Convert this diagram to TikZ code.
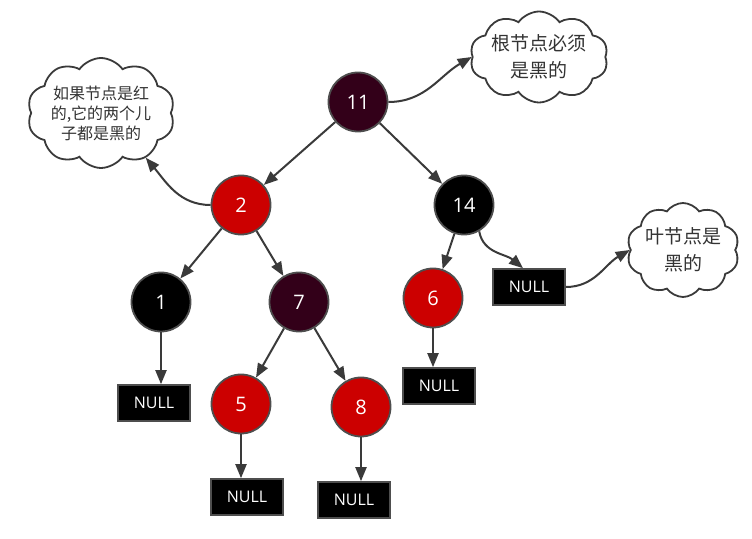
\documentclass[tikz,border=0pt]{standalone}
\usepackage{fontspec}
\setmainfont{Open Sans}
\newfontfamily\cjk{Noto Sans CJK SC}
\usetikzlibrary{shapes.symbols,arrows.meta}
\definecolor{rbdark}{HTML}{330019}
\definecolor{rbred}{HTML}{CC0000}
\definecolor{edgegray}{HTML}{3A3A3A}
\definecolor{notetext}{HTML}{333333}
\begin{document}
\begin{tikzpicture}[x=1pt,y=1pt,
 rbnode/.style={circle,draw=edgegray!90!white,line width=1.8pt,minimum size=59pt,inner sep=0pt,text=white,font=\fontsize{20}{20}\selectfont},
 nullbox/.style={rectangle,draw=edgegray!90!white,line width=1.6pt,fill=black,minimum width=72pt,minimum height=36pt,inner sep=0pt,text=white,font=\fontsize{16}{16}\selectfont},
 note/.style={cloud,draw=edgegray,line width=1.8pt,fill=white,cloud puffs=10,cloud puff arc=110,cloud ignores aspect,inner sep=0pt,align=center,text=notetext},
 arr/.style={draw=edgegray,line width=2pt,-{Triangle[length=14pt,width=11pt]}},
]
\useasboundingbox (0,0) rectangle (752,538);
% clouds
\node[note,minimum width=128pt,minimum height=110pt,font=\cjk\fontsize{16}{20}\selectfont] (cloudL) at (101,425) {如果节点是红\\的,它的两个儿\\子都是黑的};
\node[note,minimum width=132pt,minimum height=91pt,font=\cjk\fontsize{19}{27}\selectfont] (cloudT) at (539,481) {根节点必须\\是黑的};
\node[note,minimum width=110pt,minimum height=94pt,font=\cjk\fontsize{19}{27}\selectfont] (cloudR) at (683,288) {叶节点是\\黑的};
% tree nodes
\node[rbnode,fill=rbdark] (n11) at (358,436) {11};
\node[rbnode,fill=rbred] (n2) at (241,333) {2};
\node[rbnode,fill=black] (n14) at (464,333) {14};
\node[rbnode,fill=black] (n1) at (161,236) {1};
\node[rbnode,fill=rbdark] (n7) at (299,236) {7};
\node[rbnode,fill=rbred] (n6) at (433,240) {6};
\node[rbnode,fill=rbred] (n5) at (241,134) {5};
\node[rbnode,fill=rbred] (n8) at (361,131) {8};
% null leaves
\node[nullbox] (nullA) at (154,135) {NULL};
\node[nullbox] (nullB) at (247,41) {NULL};
\node[nullbox] (nullC) at (354,38) {NULL};
\node[nullbox] (nullD) at (439,152) {NULL};
\node[nullbox] (nullE) at (529,251) {NULL};
% edges
\draw[arr] (n11) -- (n2);
\draw[arr] (n11) -- (n14);
\draw[arr] (n2) -- (n1);
\draw[arr] (n2) -- (n7);
\draw[arr] (n7) -- (n5);
\draw[arr] (n7) -- (n8);
\draw[arr] (n14) -- (n6);
\draw[arr] (n1.south) -- (n1.south |- nullA.north);
\draw[arr] (n5.south) -- (n5.south |- nullB.north);
\draw[arr] (n8.south) -- (n8.south |- nullC.north);
\draw[arr] (n6.south) -- (n6.south |- nullD.north);
\draw[arr] (n14.-60) to[out=-80,in=140] ([xshift=-6pt]nullE.north);
% notes
\draw[arr] (n2.west) to[out=180,in=-50] (cloudL.-45);
\draw[arr] (n11.east) to[out=0,in=210] (cloudT.west);
\draw[arr] (nullE.east) to[out=0,in=210] (cloudR.west);
\end{tikzpicture}
\end{document}
